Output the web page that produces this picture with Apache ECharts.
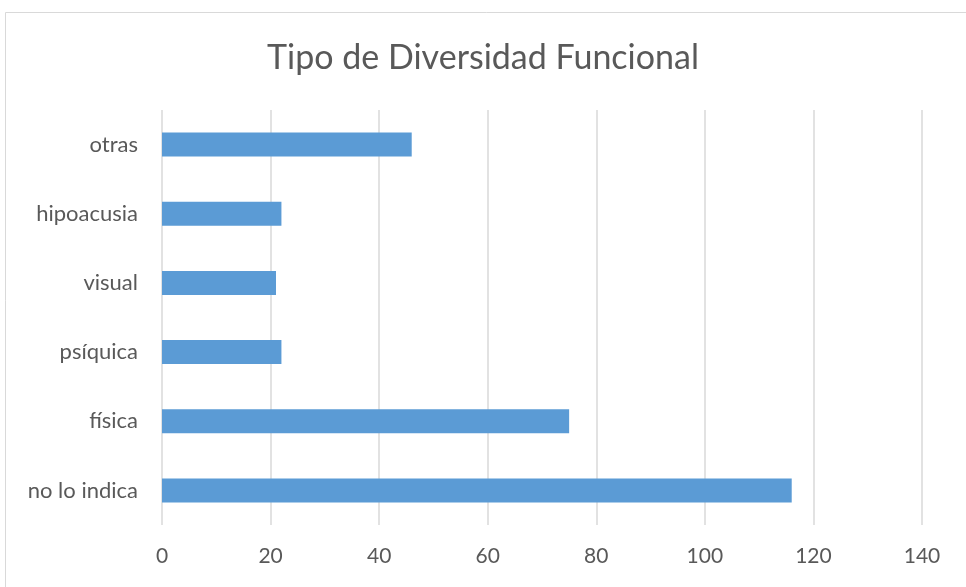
<!DOCTYPE html>
<html>
<head>
<meta charset="utf-8">
<script src="https://cdn.jsdelivr.net/npm/echarts@6/dist/echarts.min.js"></script>
<style>
html,body{margin:0;padding:0;background:#fff;}
#c{width:966px;height:587px;}
</style>
</head>
<body>
<div id="c"></div>
<script>
const categories = ['no lo indica', 'física', 'psíquica', 'visual', 'hipoacusia', 'otras'];
const values = [116, 75, 22, 21, 22, 46];
const xTicks = { min: 0, max: 140, interval: 20 };
const titleText = 'Tipo de Diversidad Funcional';

const chart = echarts.init(document.getElementById('c'));
chart.setOption({
  animation: false,
  backgroundColor: '#ffffff',
  graphic: [{
    type: 'rect',
    shape: { x: 5.5, y: 12.5, width: 980, height: 600 },
    style: { fill: 'none', stroke: '#d9d9d9', lineWidth: 1 },
    silent: true
  }],
  title: {
    text: titleText,
    left: 'center',
    top: 36,
    textStyle: { fontFamily: 'Lato', fontSize: 34, fontWeight: 'normal', color: '#595959' }
  },
  grid: { left: 162, right: 44, top: 110, bottom: 62 },
  xAxis: {
    type: 'value',
    min: xTicks.min, max: xTicks.max, interval: xTicks.interval,
    axisLine: { show: false },
    axisTick: { show: false },
    splitLine: { show: true, lineStyle: { color: '#d9d9d9', width: 1.5 } },
    axisLabel: { fontFamily: 'Lato', fontSize: 21, color: '#595959', margin: 21 }
  },
  yAxis: {
    type: 'category',
    data: categories,
    axisLine: { show: false },
    axisTick: { show: false },
    axisLabel: { fontFamily: 'Lato', fontSize: 22, color: '#595959', margin: 24 }
  },
  series: [{
    type: 'bar',
    data: values,
    barWidth: 24,
    itemStyle: { color: '#5b9bd5' }
  }]
});
</script>
</body>
</html>
